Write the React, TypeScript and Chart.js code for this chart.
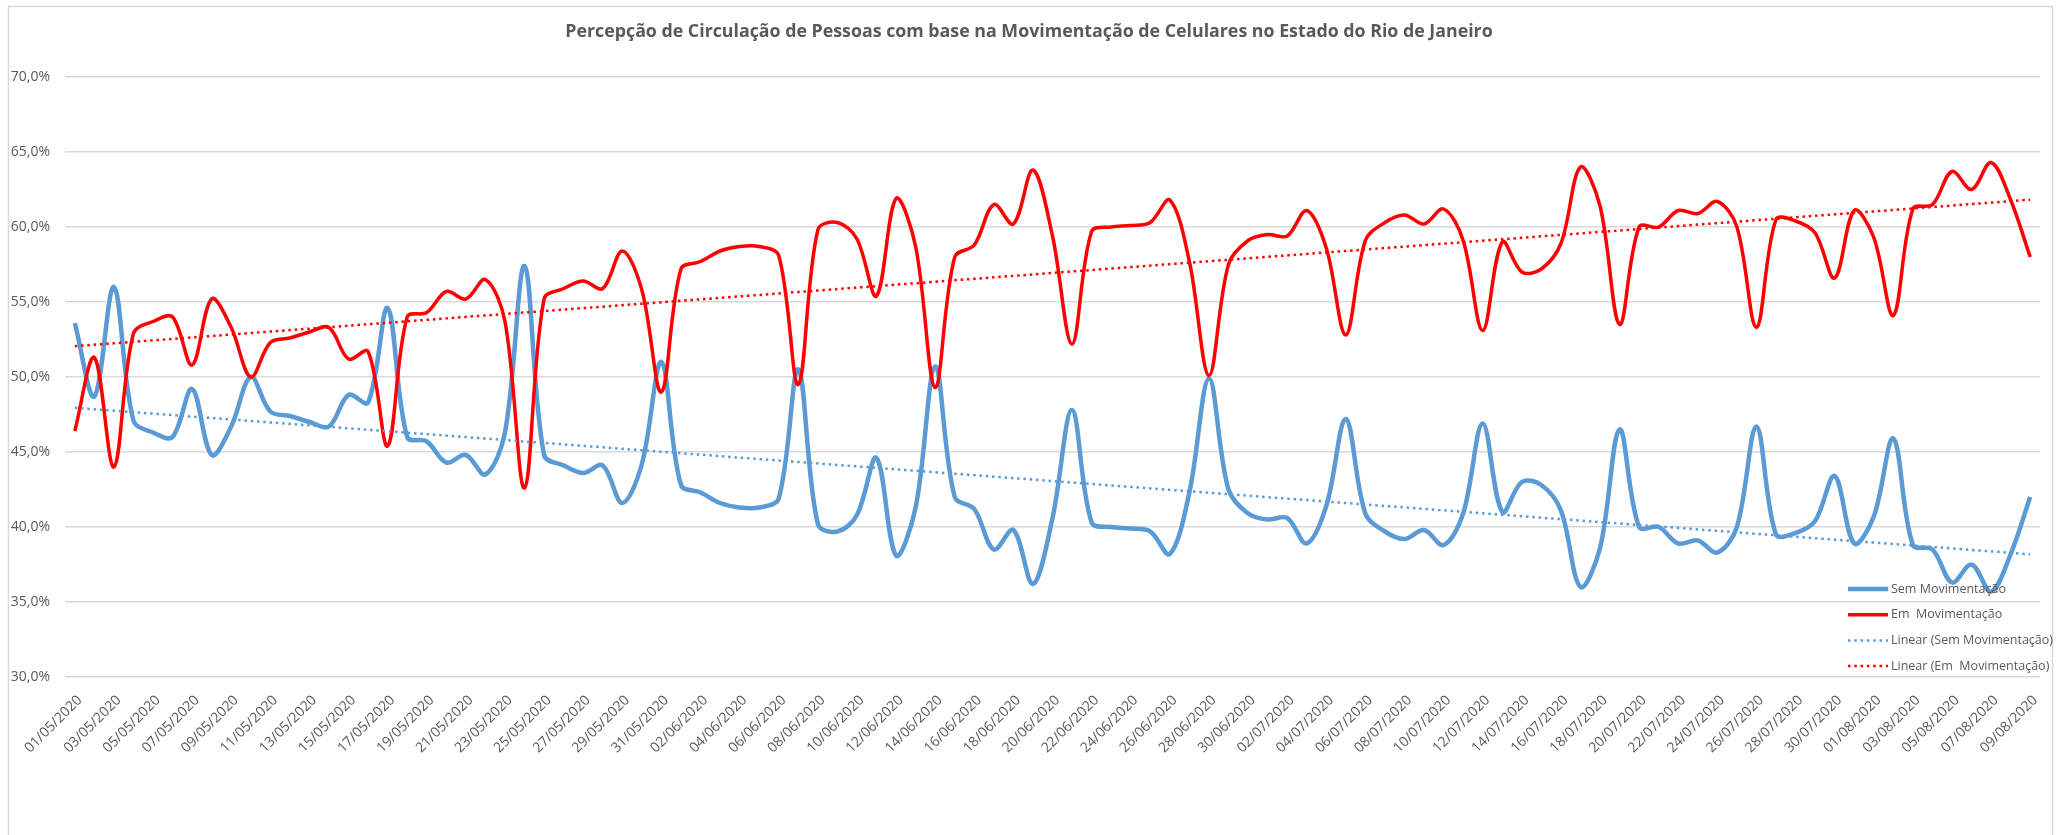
import { useEffect, useRef } from 'react';
import { Chart, registerables } from 'chart.js';

Chart.register(...registerables);

const TITLE =
  'Percepção de Circulação de Pessoas com base na Movimentação de Celulares no Estado do Rio de Janeiro';

const dates = [
  '01/05/2020', '02/05/2020', '03/05/2020', '04/05/2020', '05/05/2020', '06/05/2020', '07/05/2020', '08/05/2020',
  '09/05/2020', '10/05/2020', '11/05/2020', '12/05/2020', '13/05/2020', '14/05/2020', '15/05/2020', '16/05/2020',
  '17/05/2020', '18/05/2020', '19/05/2020', '20/05/2020', '21/05/2020', '22/05/2020', '23/05/2020', '24/05/2020',
  '25/05/2020', '26/05/2020', '27/05/2020', '28/05/2020', '29/05/2020', '30/05/2020', '31/05/2020',
  '01/06/2020', '02/06/2020', '03/06/2020', '04/06/2020', '05/06/2020', '06/06/2020', '07/06/2020', '08/06/2020',
  '09/06/2020', '10/06/2020', '11/06/2020', '12/06/2020', '13/06/2020', '14/06/2020', '15/06/2020', '16/06/2020',
  '17/06/2020', '18/06/2020', '19/06/2020', '20/06/2020', '21/06/2020', '22/06/2020', '23/06/2020', '24/06/2020',
  '25/06/2020', '26/06/2020', '27/06/2020', '28/06/2020', '29/06/2020', '30/06/2020',
  '01/07/2020', '02/07/2020', '03/07/2020', '04/07/2020', '05/07/2020', '06/07/2020', '07/07/2020', '08/07/2020',
  '09/07/2020', '10/07/2020', '11/07/2020', '12/07/2020', '13/07/2020', '14/07/2020', '15/07/2020', '16/07/2020',
  '17/07/2020', '18/07/2020', '19/07/2020', '20/07/2020', '21/07/2020', '22/07/2020', '23/07/2020', '24/07/2020',
  '25/07/2020', '26/07/2020', '27/07/2020', '28/07/2020', '29/07/2020', '30/07/2020', '31/07/2020',
  '01/08/2020', '02/08/2020', '03/08/2020', '04/08/2020', '05/08/2020', '06/08/2020', '07/08/2020', '08/08/2020',
  '09/08/2020',
];

// "Sem Movimentação" (%)
const semMovimentacao = [
  53.6, 48.7, 56.0, 47.1, 46.3, 46.0, 49.2, 44.8, 46.7, 50.0,
  47.7, 47.4, 47.0, 46.7, 48.8, 48.3, 54.6, 46.0, 45.7, 44.3,
  44.8, 43.5, 46.3, 57.4, 44.8, 44.1, 43.6, 44.1, 41.6, 44.2,
  51.0, 42.8, 42.3, 41.6, 41.3, 41.3, 41.9, 50.5, 40.2, 39.7,
  40.8, 44.6, 38.1, 41.3, 50.7, 42.0, 41.2, 38.5, 39.8, 36.2,
  40.6, 47.8, 40.3, 40.0, 39.9, 39.7, 38.2, 42.3, 49.9, 42.5,
  40.9, 40.5, 40.6, 38.9, 41.4, 47.2, 40.9, 39.7, 39.2, 39.8,
  38.8, 40.9, 46.9, 41.0, 43.0, 42.8, 41.1, 36.0, 38.6, 46.5,
  40.0, 40.0, 38.9, 39.1, 38.3, 40.0, 46.7, 39.5, 39.6, 40.4,
  43.4, 38.9, 40.7, 45.9, 38.8, 38.5, 36.3, 37.5, 35.7, 38.2,
  42.0,
];

// "Em  Movimentação" (%)
const emMovimentacao = [
  46.4, 51.3, 44.0, 52.9, 53.7, 54.0, 50.8, 55.2, 53.3, 50.0,
  52.3, 52.6, 53.0, 53.3, 51.2, 51.7, 45.4, 54.0, 54.3, 55.7,
  55.2, 56.5, 53.7, 42.6, 55.2, 55.9, 56.4, 55.9, 58.4, 55.8,
  49.0, 57.2, 57.7, 58.4, 58.7, 58.7, 58.1, 49.5, 59.8, 60.3,
  59.2, 55.4, 61.9, 58.7, 49.3, 58.0, 58.8, 61.5, 60.2, 63.8,
  59.4, 52.2, 59.7, 60.0, 60.1, 60.3, 61.8, 57.7, 50.1, 57.5,
  59.1, 59.5, 59.4, 61.1, 58.6, 52.8, 59.1, 60.3, 60.8, 60.2,
  61.2, 59.1, 53.1, 59.0, 57.0, 57.2, 58.9, 64.0, 61.4, 53.5,
  60.0, 60.0, 61.1, 60.9, 61.7, 60.0, 53.3, 60.5, 60.4, 59.6,
  56.6, 61.1, 59.3, 54.1, 61.2, 61.5, 63.7, 62.5, 64.3, 61.8,
  58.0,
];

const seriesLabels = ['Sem Movimentação', 'Em  Movimentação'];
const trendLabels = ['Linear (Sem Movimentação)', 'Linear (Em  Movimentação)'];

const Y_MIN = 30;
const Y_MAX = 70;
const Y_STEP = 5;

const BLUE = '#5B9BD5';
const RED = '#FF0000';
const GRAY_TEXT = '#595959';
const GRID = '#D9D9D9';
const FONT = '"Open Sans", "Liberation Sans", sans-serif';

// least-squares linear trend, as Excel's "Linear" trendline
function linearTrend(values: number[]): number[] {
  const n = values.length;
  let sx = 0, sy = 0, sxy = 0, sxx = 0;
  values.forEach((v, i) => {
    sx += i; sy += v; sxy += i * v; sxx += i * i;
  });
  const b = (n * sxy - sx * sy) / (n * sxx - sx * sx);
  const a = (sy - b * sx) / n;
  return values.map((_, i) => a + b * i);
}

const frameTitleLegend = {
  id: 'frameTitleLegend',
  beforeDraw(chart: any) {
    const ctx = chart.ctx;
    ctx.save();
    ctx.fillStyle = '#FFFFFF';
    ctx.fillRect(0, 0, chart.width, chart.height);
    ctx.strokeStyle = GRID;
    ctx.lineWidth = 1.5;
    ctx.strokeRect(8.5, 6.5, chart.width - 20, chart.height + 50);
    ctx.restore();
  },
  afterDraw(chart: any) {
    const ctx = chart.ctx;
    const area = chart.chartArea;
    ctx.save();
    // title
    ctx.fillStyle = GRAY_TEXT;
    ctx.font = `bold 17.8px ${FONT}`;
    ctx.textAlign = 'center';
    ctx.textBaseline = 'middle';
    ctx.fillText(TITLE, (8 + chart.width - 12) / 2 - 1, 31.5);
    // legend
    const x0 = area.right - 192;
    const y0 = area.bottom - 88;
    const rowH = 25.7;
    [0, 1, 2, 3].forEach((dsIndex, row) => {
      const ds = chart.data.datasets[dsIndex];
      const y = y0 + row * rowH;
      ctx.strokeStyle = ds.borderColor;
      ctx.lineWidth = ds.borderWidth;
      ctx.setLineDash(ds.borderDash || []);
      ctx.lineCap = 'butt';
      ctx.beginPath();
      ctx.moveTo(x0, y);
      ctx.lineTo(x0 + 40, y);
      ctx.stroke();
      ctx.setLineDash([]);
      ctx.fillStyle = GRAY_TEXT;
      ctx.font = `12.5px ${FONT}`;
      ctx.textBaseline = 'middle';
      ctx.textAlign = 'left';
      ctx.fillText(ds.label, x0 + 43, y);
    });
    ctx.restore();
  },
};

export default function App() {
  const canvasRef = useRef<HTMLCanvasElement | null>(null);

  useEffect(() => {
    if (!canvasRef.current) return;
    const chart = new Chart(canvasRef.current, {
      type: 'line',
      data: {
        labels: dates,
        datasets: [
          {
            label: seriesLabels[0],
            data: semMovimentacao,
            borderColor: BLUE,
            backgroundColor: BLUE,
            borderWidth: 4.5,
            tension: 0.35,
            pointRadius: 0,
            order: 4,
          },
          {
            label: seriesLabels[1],
            data: emMovimentacao,
            borderColor: RED,
            backgroundColor: RED,
            borderWidth: 3.5,
            tension: 0.35,
            pointRadius: 0,
            order: 3,
          },
          {
            label: trendLabels[0],
            data: linearTrend(semMovimentacao),
            borderColor: BLUE,
            backgroundColor: BLUE,
            borderWidth: 2.5,
            borderDash: [2.5, 3.8],
            tension: 0,
            pointRadius: 0,
            order: 2,
          },
          {
            label: trendLabels[1],
            data: linearTrend(emMovimentacao),
            borderColor: RED,
            backgroundColor: RED,
            borderWidth: 2.5,
            borderDash: [2.5, 3.8],
            tension: 0,
            pointRadius: 0,
            order: 1,
          },
        ],
      },
      options: {
        animation: false,
        responsive: true,
        maintainAspectRatio: false,
        layout: { padding: { top: 77, left: 0, right: 24, bottom: 0 } },
        plugins: {
          legend: { display: false },
          tooltip: { enabled: false },
          title: { display: false },
        },
        scales: {
          x: {
            offset: true,
            grid: { display: false, drawTicks: false },
            border: { display: false },
            ticks: {
              autoSkip: false,
              maxRotation: 45,
              minRotation: 45,
              padding: 15,
              labelOffset: 5,
              color: GRAY_TEXT,
              font: { family: FONT, size: 14 },
              callback: (_v: any, i: number) => (i % 2 === 0 ? dates[i] : ''),
            },
            afterFit: (scale: any) => {
              scale.height = 158;
            },
          },
          y: {
            min: Y_MIN,
            max: Y_MAX,
            grid: { color: GRID, lineWidth: 1.5, drawTicks: false },
            border: { display: false },
            ticks: {
              stepSize: Y_STEP,
              padding: 15,
              color: GRAY_TEXT,
              font: { family: FONT, size: 14 },
              callback: (v: any) => `${Number(v).toFixed(1).replace('.', ',')}%`,
            },
            afterFit: (scale: any) => {
              scale.width = 65;
            },
          },
        },
      },
      plugins: [frameTitleLegend],
    });
    return () => chart.destroy();
  }, []);

  return (
    <div style={{ position: 'absolute', left: 0, top: 0, width: 2064, height: 835, background: '#fff' }}>
      <canvas ref={canvasRef} />
    </div>
  );
}
